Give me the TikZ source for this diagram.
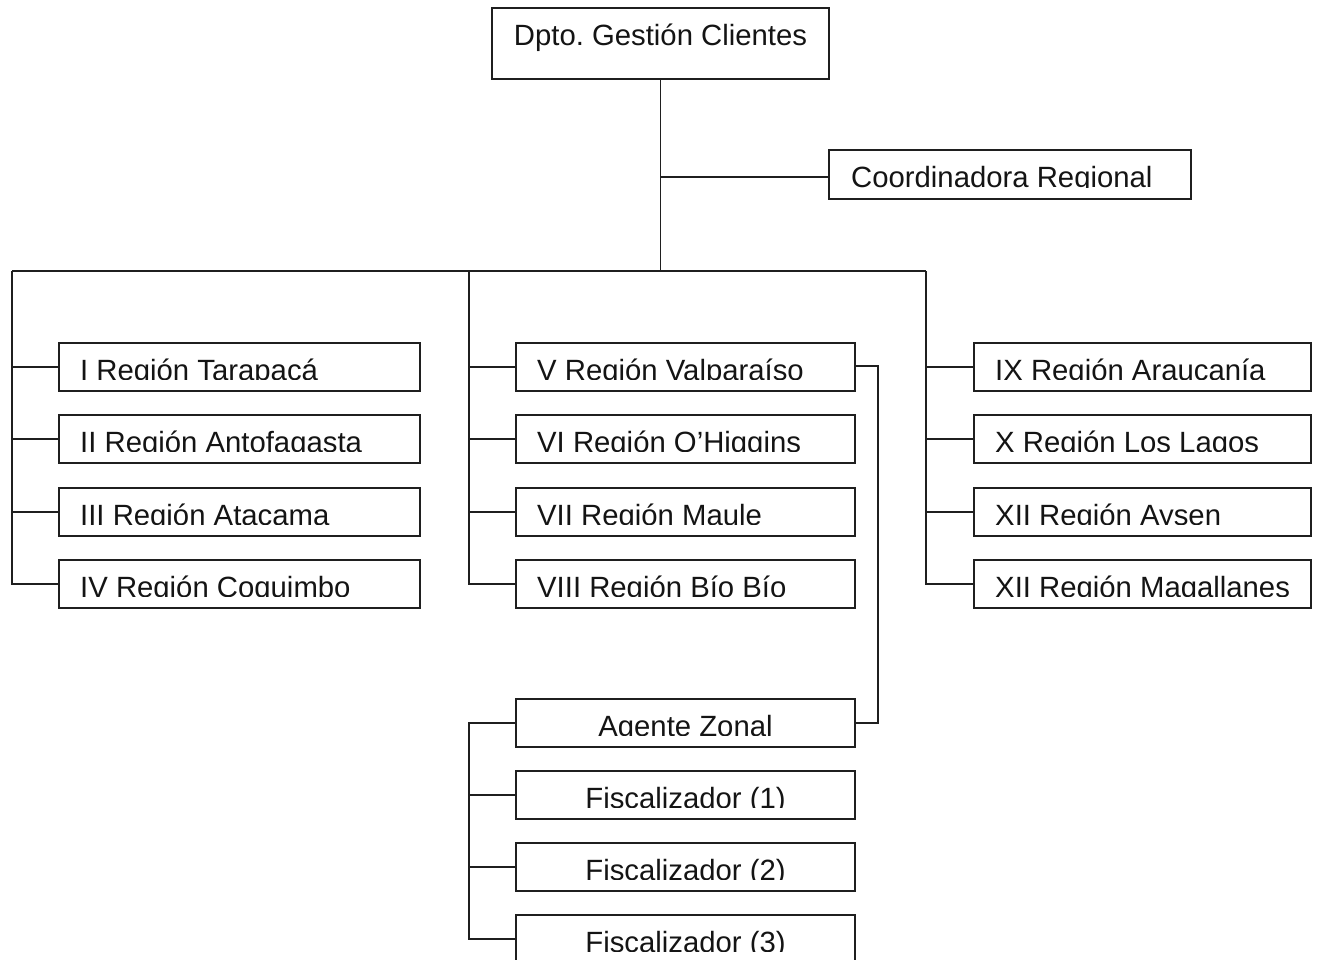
\documentclass[tikz,border=0pt]{standalone}
\usepackage{fontspec}
\setmainfont{Liberation Sans}
\frenchspacing
\tikzset{
  x=1pt, y=-1pt,
  ink/.style={draw=black!88, line width=1.6pt},
  wire/.style={ink},
  lab/.style={inner sep=0pt, font=\fontsize{29.3}{34}\selectfont, text=black!92},
  orgbox/.style={ink, inner sep=0pt, outer sep=0pt, anchor=north west, minimum height=48pt},
  leftcol/.style={orgbox, minimum width=361pt},
  midcol/.style={orgbox, minimum width=339pt},
  rightcol/.style={orgbox, minimum width=337pt},
}
% label of box #1, set on a baseline near its lower edge, descenders cut off
% #2: anchor of the label, #3: anchor of the box, #4: horizontal offset, #5: text
\newcommand\cutlabel[5]{%
  \begin{scope}
    \clip ([yshift=11.4pt]#1.south west) rectangle (#1.north east);
    \node[lab, anchor=#2] (#1-t) at ([xshift=#4,yshift=11pt]#1.#3) {#5};
  \end{scope}}
\newcommand\leftlabel[2]{\cutlabel{#1}{base west}{south west}{21pt}{#2}}
\newcommand\midlabel[2]{\cutlabel{#1}{base}{south}{0pt}{#2}}
\begin{document}
\begin{tikzpicture}
\useasboundingbox (0,0) rectangle (1320,960);
\clip (0,0) rectangle (1320,960);
\fill[white] (0,0) rectangle (1320,960);

% head of the department and regional coordinator
\node[orgbox, minimum width=337pt, minimum height=71pt] (top) at (492,8) {};
\node[lab, anchor=base] (top-t) at (top.north |- 0,46) {Dpto. Gestión Clientes};
\node[orgbox, minimum width=362pt, minimum height=49pt] (coord) at (829,150) {};
\cutlabel{coord}{base west}{south west}{22pt}{Coordinadora Regional}

% left column of regions
\node[leftcol] (r1) at (59,343) {};
\node[leftcol] (r2) at (59,415) {};
\node[leftcol] (r3) at (59,488) {};
\node[leftcol] (r4) at (59,560) {};
\leftlabel{r1}{I Región Tarapacá}
\leftlabel{r2}{II Región Antofagasta}
\leftlabel{r3}{III Región Atacama}
\leftlabel{r4}{IV Región Coquimbo}

% middle column of regions
\node[midcol] (r5) at (516,343) {};
\node[midcol] (r6) at (516,415) {};
\node[midcol] (r7) at (516,488) {};
\node[midcol] (r8) at (516,560) {};
\leftlabel{r5}{V Región Valparaíso}
\leftlabel{r6}{VI Región O’Higgins}
\leftlabel{r7}{VII Región Maule}
\leftlabel{r8}{VIII Región Bío Bío}

% right column of regions
\node[rightcol] (r9)  at (974,343) {};
\node[rightcol] (r10) at (974,415) {};
\node[rightcol] (r11) at (974,488) {};
\node[rightcol] (r12) at (974,560) {};
\leftlabel{r9}{IX Región Araucanía}
\leftlabel{r10}{X Región Los Lagos}
\leftlabel{r11}{XII Región Aysen}
\leftlabel{r12}{XII Región Magallanes}

% zonal team
\node[midcol] (az) at (516,699) {};
\node[midcol] (f1) at (516,771) {};
\node[midcol] (f2) at (516,843) {};
\node[midcol] (f3) at (516,915) {};
\midlabel{az}{Agente Zonal}
\midlabel{f1}{Fiscalizador (1)}
\midlabel{f2}{Fiscalizador (2)}
\midlabel{f3}{Fiscalizador (3)}

% trunk and main bar
\coordinate (hub)  at (top.south |- 0,271);
\coordinate (barL) at (12,271);
\coordinate (barM) at (469,271);
\coordinate (barR) at (926,271);
\draw[wire] (top.south) -- (hub);
\draw[wire] (top.south |- 0,177) -- (coord.west |- 0,177);
\draw[wire] (barL) -- (barR);

% branches of the three columns
\draw[wire] (barL) |- (r4.west);
\foreach \n in {r1,r2,r3} \draw[wire] (barL |- \n.west) -- (\n.west);
\draw[wire] (barM) |- (r8.west);
\foreach \n in {r5,r6,r7} \draw[wire] (barM |- \n.west) -- (\n.west);
\draw[wire] (barR) |- (r12.west);
\foreach \n in {r9,r10,r11} \draw[wire] (barR |- \n.west) -- (\n.west);

% Valparaíso down to its zonal team
\coordinate (jog) at (878,366);
\draw[wire] (r5.east |- jog) -- (jog) |- (az.east);
\coordinate (zx) at (469,0);
\draw[wire] (az.west) -- (az.west -| zx) |- (f3.west);
\draw[wire] (zx |- f1.west) -- (f1.west);
\draw[wire] (zx |- f2.west) -- (f2.west);
\end{tikzpicture}
\end{document}
